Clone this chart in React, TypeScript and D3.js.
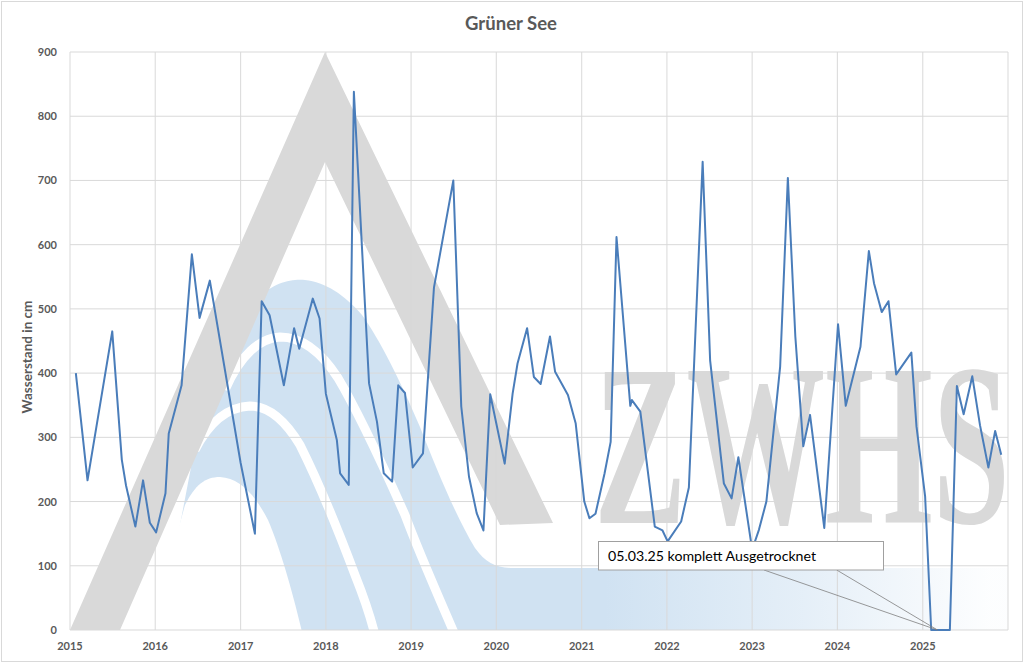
import React from "react";
import * as d3 from "d3";

// ---- data ----
const dates: string[] = [
  "2015-01-26", "2015-03-17", "2015-07-01", "2015-08-11", "2015-08-29", "2015-10-08",
  "2015-11-10", "2015-12-09", "2016-01-05", "2016-02-14", "2016-02-28", "2016-04-23",
  "2016-06-06", "2016-07-09", "2016-08-22", "2017-01-01", "2017-03-03", "2017-04-01",
  "2017-05-05", "2017-07-05", "2017-08-18", "2017-09-09", "2017-11-06", "2017-12-05",
  "2018-01-01", "2018-02-17", "2018-03-03", "2018-04-09", "2018-05-01", "2018-07-05",
  "2018-08-08", "2018-09-06", "2018-10-12", "2018-11-07", "2018-12-06", "2019-01-08",
  "2019-02-21", "2019-04-09", "2019-07-01", "2019-08-04", "2019-09-06", "2019-10-09",
  "2019-11-07", "2019-12-06", "2020-02-06", "2020-03-11", "2020-04-01", "2020-05-12",
  "2020-06-10", "2020-07-09", "2020-08-18", "2020-09-09", "2020-11-03", "2020-12-06",
  "2021-01-12", "2021-02-03", "2021-03-01", "2021-04-09", "2021-05-05", "2021-05-30",
  "2021-07-28", "2021-08-04", "2021-09-09", "2021-11-10", "2021-12-13", "2022-01-04",
  "2022-03-03", "2022-04-05", "2022-06-03", "2022-07-05", "2022-09-02", "2022-10-05",
  "2022-11-03", "2023-01-01", "2023-01-30", "2023-03-03", "2023-05-01", "2023-06-03",
  "2023-07-05", "2023-08-08", "2023-09-06", "2023-11-06", "2024-01-04", "2024-02-06",
  "2024-04-09", "2024-05-15", "2024-06-06", "2024-07-09", "2024-08-07", "2024-09-09",
  "2024-11-13", "2024-12-05", "2025-01-11", "2025-02-06", "2025-03-05", "2025-04-27",
  "2025-05-27", "2025-06-25", "2025-08-01", "2025-09-03", "2025-10-09", "2025-11-07",
  "2025-12-03",
];
const levels: number[] = [
  400, 233, 465, 265, 225, 161,
  233, 167, 152, 213, 306, 381,
  585, 486, 544, 260, 150, 512,
  490, 381, 470, 438, 516, 485,
  368, 296, 244, 226, 838, 384,
  324, 244, 231, 381, 369, 253,
  275, 533, 700, 348, 239, 182,
  155, 367, 259, 368, 415, 470,
  394, 383, 457, 402, 366, 322,
  200, 174, 181, 244, 293, 612,
  349, 358, 340, 161, 155, 138,
  169, 222, 729, 420, 228, 205,
  269, 125, 156, 200, 410, 704,
  457, 286, 335, 159, 476, 349,
  441, 590, 540, 495, 512, 398,
  432, 317, 208, 0, 0, 0,
  380, 336, 395, 319, 253, 310,
  273,
];
const yTicks: number[] = [0, 100, 200, 300, 400, 500, 600, 700, 800, 900];
const yearTicks: number[] = [2015, 2016, 2017, 2018, 2019, 2020, 2021, 2022, 2023, 2024, 2025, 2026];
const title = "Grüner See";
const yTitle = "Wasserstand in cm";
const noteText = "05.03.25 komplett Ausgetrocknet";
const noteDate = "2025-03-05";
const noteValue = 0;

const W = 1024;
const H = 663;
const M = { left: 70, right: 1008, top: 52, bottom: 630 };
const FONT = "Lato, 'Open Sans', sans-serif";
const TXT = "#595959";
const GRID = "#d9d9d9";
const LINE = "#4a7dba";
const BLUE = "#d0e2f2";
const GRAY = "#d9d9d9";

const parse = d3.timeParse("%Y-%m-%d");

export default function App() {
  const x = d3
    .scaleTime()
    .domain([new Date(2015, 0, 1), new Date(2026, 0, 1)])
    .range([M.left, M.right]);
  const y = d3.scaleLinear().domain([0, 900]).range([M.bottom, M.top]);

  const pts = dates.map((d, i) => ({ d: parse(d) as Date, v: levels[i] }));
  const line = d3
    .line<{ d: Date; v: number }>()
    .x((p) => x(p.d))
    .y((p) => y(p.v));

  const nx = x(parse(noteDate) as Date);
  const ny = y(noteValue);

  return (
    <svg
      width={W}
      height={H}
      style={{ position: "absolute", left: 0, top: 0, background: "#fff" }}
      fontFamily={FONT}
    >
      <defs>
        <clipPath id="plotClip">
          <rect x={M.left} y={M.top} width={M.right - M.left} height={M.bottom - M.top} />
        </clipPath>
        <linearGradient id="blueGrad" gradientUnits="userSpaceOnUse" x1={0} y1={0} x2={1008} y2={0}>
          <stop offset="0" stopColor={BLUE} stopOpacity={1} />
          <stop offset="0.6" stopColor={BLUE} stopOpacity={1} />
          <stop offset="0.8" stopColor={BLUE} stopOpacity={0.55} />
          <stop offset="0.98" stopColor={BLUE} stopOpacity={0.05} />
        </linearGradient>
      </defs>

      <rect x={1.5} y={1.5} width={1021} height={660} fill="#fff" stroke={GRID} strokeWidth={1} />

      {/* watermark */}
      <g clipPath="url(#plotClip)">
        <path
          d="M160,630 L200,420 C215,370 230,330 255,300 C275,282 290,279 305,280 C325,282 345,295 362,315 C380,340 400,380 420,427 C435,465 455,515 475,548 C485,562 495,567 510,568 L1008,568 L1008,630 Z"
          fill="url(#blueGrad)"
        />
        <path
          d="M225,390 C240,355 260,338 280,337 C300,337 320,350 338,378 C360,415 385,470 405,515 C420,555 440,600 455,635"
          fill="none"
          stroke="#fff"
          strokeWidth={9}
        />
        <path
          d="M195,450 C210,420 230,407 250,406 C268,406 285,420 300,445 C320,485 340,535 355,575 C363,595 370,615 375,635"
          fill="none"
          stroke="#fff"
          strokeWidth={9}
        />
        <path
          d="M150,632 L185,505 C195,485 205,477 220,477 C240,478 255,495 268,520 C280,548 292,590 302,632 Z"
          fill="#fff"
        />
        <polygon points="70,630 325,52 553,523 500,525 325,162 120,630" fill={GRAY} />
        <text
          x={0}
          y={0}
          transform="translate(594,523) scale(0.6,1)"
          fontFamily="'Liberation Serif', 'DejaVu Serif', serif"
          fontWeight="bold"
          fontSize={231}
          fill={GRAY}
        >
          ZWHS
        </text>
      </g>

      {/* grid */}
      <g>
        {yTicks.map((t) => (
          <line key={"h" + t} x1={M.left} x2={M.right} y1={y(t)} y2={y(t)} stroke={GRID} strokeWidth={1} />
        ))}
        {yearTicks.map((yr) => (
          <line
            key={"v" + yr}
            x1={x(new Date(yr, 0, 1))}
            x2={x(new Date(yr, 0, 1))}
            y1={M.top}
            y2={M.bottom}
            stroke={GRID}
            strokeWidth={1}
          />
        ))}
      </g>

      {/* axis labels */}
      <g fontSize={11} fontWeight="bold" fill={TXT}>
        {yTicks.map((t) => (
          <text key={"yl" + t} x={57} y={y(t) + 4} textAnchor="end">
            {t}
          </text>
        ))}
        {yearTicks.slice(0, -1).map((yr) => (
          <text key={"xl" + yr} x={x(new Date(yr, 0, 1))} y={649.5} textAnchor="middle">
            {yr}
          </text>
        ))}
      </g>

      <text x={511} y={29.5} textAnchor="middle" fontSize={18.5} fontWeight="bold" fill={TXT}>
        {title}
      </text>
      <text
        transform="translate(31.5,357) rotate(-90)"
        textAnchor="middle"
        fontSize={13.5}
        fontWeight="bold"
        fill={TXT}
      >
        {yTitle}
      </text>

      {/* data line */}
      <path d={line(pts) || ""} fill="none" stroke={LINE} strokeWidth={2} strokeLinejoin="round" />

      {/* callout */}
      <g>
        <line x1={764} y1={570} x2={nx} y2={ny} stroke="#7f7f7f" strokeWidth={0.8} />
        <line x1={836.7} y1={570} x2={nx} y2={ny} stroke="#7f7f7f" strokeWidth={0.8} />
        <rect x={598.5} y={541.5} width={285} height={28.5} fill="#fff" stroke="#a0a0a0" strokeWidth={1} />
        <text x={608} y={561} fontSize={14} fill="#000" textLength={208} lengthAdjust="spacingAndGlyphs">
          {noteText}
        </text>
      </g>
    </svg>
  );
}
